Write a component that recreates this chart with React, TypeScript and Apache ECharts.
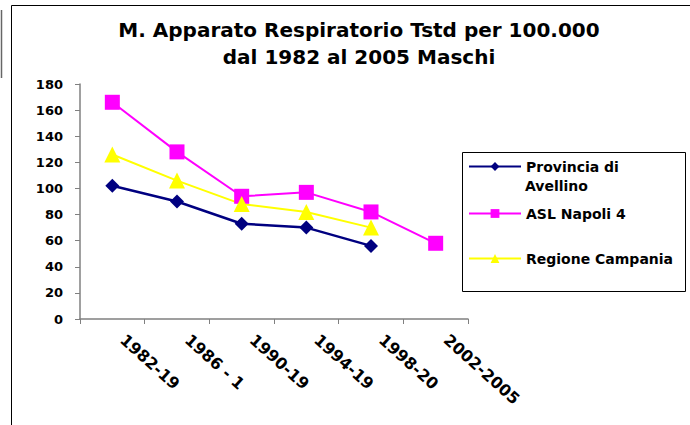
import React, { useEffect, useRef } from "react";
import * as echarts from "echarts";

const categories = ["1982-19", "1986 - 1", "1990-19", "1994-19", "1998-20", "2002-2005"];
const avellino = [102, 90, 73, 70, 56, null];
const napoli = [166, 128, 94, 97, 82, 58];
const campania = [126, 106, 88, 82, 70, null];
const yTicks = { min: 0, max: 180, interval: 20 };
const titleLines = ["M. Apparato Respiratorio Tstd per 100.000", "dal 1982 al 2005 Maschi"];
const seriesNames = ["Provincia di Avellino", "ASL Napoli 4", "Regione Campania"];

const FONT = "'DejaVu Sans', 'Liberation Sans', Arial, sans-serif";

export default function App() {
  const ref = useRef<HTMLDivElement>(null);
  useEffect(() => {
    const chart = echarts.init(ref.current!, null, { renderer: "svg" });
    const legendBase = {
      orient: "vertical" as const,
      left: 463,
      itemWidth: 52,
      itemHeight: 11,
      itemGap: 5,
      textStyle: { fontFamily: FONT, fontWeight: "bold" as const, fontSize: 14, color: "#000" },
      selectedMode: false,
    };
    chart.setOption({
      animation: false,
      backgroundColor: "#fff",
      title: {
        text: titleLines.join("\n"),
        left: 354,
        textAlign: "center",
        top: 11,
        textStyle: { fontFamily: FONT, fontWeight: "bold", fontSize: 20, lineHeight: 27, color: "#000" },
      },
      grid: { left: 80, right: 222, top: 84, bottom: 106 },
      xAxis: {
        type: "category",
        data: categories,
        boundaryGap: true,
        axisLine: { lineStyle: { color: "#808080", width: 1.5 } },
        axisTick: { show: true, alignWithLabel: false, length: 5, lineStyle: { color: "#808080" } },
        axisLabel: {
          rotate: -42,
          interval: 0,
          margin: 9,
          padding: [0, 0, 0, 14],
          fontFamily: FONT,
          fontWeight: "bold",
          fontSize: 16,
          color: "#000",
        },
      },
      yAxis: {
        type: "value",
        ...yTicks,
        splitLine: { show: false },
        axisLine: { show: true, lineStyle: { color: "#808080", width: 1.5 } },
        axisTick: { show: true, length: 5, lineStyle: { color: "#808080" } },
        axisLabel: { fontFamily: FONT, fontWeight: "bold", fontSize: 13, color: "#000", margin: 17 },
      },
      legend: [
        { ...legendBase, top: 154.5, data: [seriesNames[0]], formatter: () => "Provincia di" },
        { ...legendBase, top: 201.5, data: [seriesNames[1]] },
        { ...legendBase, top: 246.5, data: [seriesNames[2]] },
      ],
      series: [
        {
          name: seriesNames[0],
          type: "line",
          data: avellino,
          color: "#000080",
          symbol: "diamond",
          symbolSize: 14,
          lineStyle: { width: 2.5, color: "#000080" },
          itemStyle: { color: "#000080" },
        },
        {
          name: seriesNames[1],
          type: "line",
          data: napoli,
          color: "#FF00FF",
          symbol: "rect",
          symbolSize: 15,
          lineStyle: { width: 2, color: "#FF00FF" },
          itemStyle: { color: "#FF00FF" },
        },
        {
          name: seriesNames[2],
          type: "line",
          data: campania,
          color: "#FFFF00",
          symbol: "triangle",
          symbolSize: 16,
          lineStyle: { width: 2, color: "#FFFF00" },
          itemStyle: { color: "#FFFF00" },
        },
      ],
      graphic: [
        { type: "rect", shape: { x: 11.5, y: 5.5, width: 700, height: 440 }, style: { fill: "none", stroke: "#000", lineWidth: 1 }, silent: true },
        { type: "line", shape: { x1: 1.5, y1: 10, x2: 1.5, y2: 78 }, style: { stroke: "#666", lineWidth: 1.5 }, silent: true },
        { type: "rect", shape: { x: 462.5, y: 152.5, width: 223, height: 139 }, style: { fill: "none", stroke: "#000", lineWidth: 1 }, silent: true },
        { type: "text", x: 525, y: 179, style: { text: "Avellino", font: `bold 14px ${FONT}`, fill: "#000" }, silent: true },
      ],
    });
    return () => chart.dispose();
  }, []);
  return <div ref={ref} style={{ position: "fixed", left: 0, top: 0, width: 690, height: 425 }} />;
}
